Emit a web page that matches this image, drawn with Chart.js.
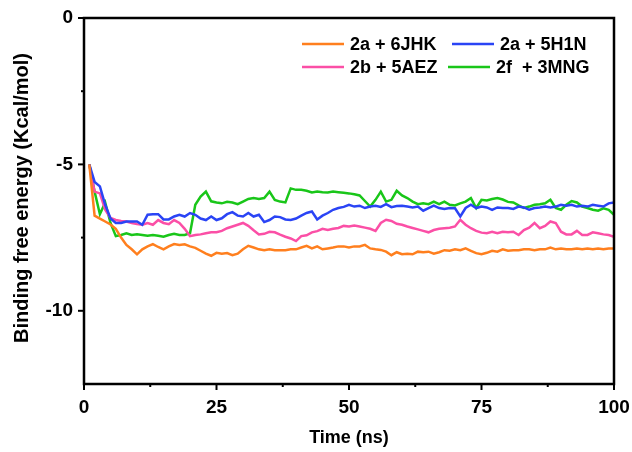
<!DOCTYPE html>
<html>
<head>
<meta charset="utf-8">
<script src="https://cdn.jsdelivr.net/npm/chart.js@4.4.0/dist/chart.umd.min.js"></script>
<style>
  html, body { margin: 0; padding: 0; background: #fff; }
</style>
</head>
<body>
<canvas id="chart" width="632" height="452"></canvas>
<script>
// time axis (ns)
const time = [
  1, 2, 3, 4, 5, 6, 7, 8, 9, 10, 11, 12, 13, 14, 15, 16, 17, 18, 19, 20,
  21, 22, 23, 24, 25, 26, 27, 28, 29, 30, 31, 32, 33, 34, 35, 36, 37, 38, 39, 40,
  41, 42, 43, 44, 45, 46, 47, 48, 49, 50, 51, 52, 53, 54, 55, 56, 57, 58, 59, 60,
  61, 62, 63, 64, 65, 66, 67, 68, 69, 70, 71, 72, 73, 74, 75, 76, 77, 78, 79, 80,
  81, 82, 83, 84, 85, 86, 87, 88, 89, 90, 91, 92, 93, 94, 95, 96, 97, 98, 99, 100
];

// 2a + 6JHK
const jhk6 = [
  -5.0, -6.75, -6.85, -6.95, -7.05, -7.2, -7.5, -7.75, -7.9, -8.07,
  -7.9, -7.8, -7.72, -7.82, -7.9, -7.8, -7.72, -7.75, -7.73, -7.8,
  -7.85, -7.95, -8.05, -8.12, -8.02, -8.05, -8.03, -8.1, -8.05, -7.9,
  -7.78, -7.84, -7.9, -7.93, -7.9, -7.93, -7.93, -7.93, -7.9, -7.9,
  -7.84, -7.78, -7.87, -7.8, -7.9, -7.87, -7.84, -7.8, -7.8, -7.84,
  -7.8, -7.8, -7.75, -7.87, -7.9, -7.92, -7.98, -8.1, -8.0, -8.07,
  -8.05, -8.07, -7.98, -8.0, -7.98, -8.05, -8.0, -7.93, -7.95, -7.9,
  -7.93, -7.87, -7.95, -8.03, -8.07, -8.02, -7.95, -7.98, -7.9, -7.95,
  -7.93, -7.93, -7.9, -7.9, -7.93, -7.9, -7.9, -7.84, -7.9, -7.87,
  -7.9, -7.9, -7.87, -7.9, -7.87, -7.9, -7.87, -7.9, -7.87, -7.87
];

// 2a + 5H1N
const h1n5 = [
  -5.0, -5.6, -5.75, -6.38, -6.85, -7.0, -7.0, -6.95, -6.95, -6.95,
  -7.06, -6.72, -6.7, -6.7, -6.88, -6.88, -6.78, -6.72, -6.78, -6.66,
  -6.72, -6.85, -6.9, -6.78, -6.9, -6.84, -6.7, -6.63, -6.75, -6.78,
  -6.66, -6.78, -6.72, -6.97, -6.9, -6.78, -6.8, -6.88, -6.9, -6.85,
  -6.75, -6.66, -6.61, -6.88, -6.75, -6.66, -6.55, -6.49, -6.45, -6.38,
  -6.44, -6.41, -6.49, -6.44, -6.41, -6.45, -6.36, -6.46, -6.42, -6.41,
  -6.44, -6.47, -6.44, -6.58, -6.49, -6.41, -6.49, -6.52, -6.49, -6.5,
  -6.78, -6.49, -6.38, -6.49, -6.44, -6.47, -6.55, -6.47, -6.49, -6.49,
  -6.52, -6.44, -6.47, -6.55, -6.49, -6.47, -6.44, -6.47, -6.44, -6.38,
  -6.41, -6.38, -6.44, -6.41, -6.44, -6.38, -6.41, -6.44, -6.33, -6.3
];

// 2b + 5AEZ
const aez5 = [
  -5.0, -5.93, -5.99, -6.55, -6.83, -6.9, -6.93, -6.95, -7.0, -7.04,
  -7.06, -7.0, -7.06, -6.9, -7.0, -7.04, -6.9, -7.0, -7.2, -7.45,
  -7.41, -7.39, -7.35, -7.32, -7.32, -7.27, -7.18, -7.12, -7.06, -7.0,
  -7.1, -7.25, -7.39, -7.37, -7.3, -7.32, -7.4, -7.47, -7.53, -7.62,
  -7.45, -7.42, -7.32, -7.28, -7.2, -7.24, -7.2, -7.17, -7.1, -7.12,
  -7.09, -7.12, -7.16, -7.2, -7.27, -7.0, -6.89, -6.93, -7.03, -7.06,
  -7.12, -7.17, -7.22, -7.27, -7.32, -7.24, -7.2, -7.18, -7.16, -7.12,
  -6.89, -7.06, -7.18, -7.27, -7.33, -7.35, -7.3, -7.35, -7.3, -7.32,
  -7.3, -7.41, -7.24, -7.16, -7.0, -7.18, -7.1, -6.95, -7.0, -7.3,
  -7.39, -7.39, -7.27, -7.41, -7.41, -7.32, -7.35, -7.39, -7.41, -7.47
];

// 2f + 3MNG
const mng3 = [
  -5.0, -5.93, -6.7, -6.3, -7.0, -7.45, -7.41, -7.35, -7.41, -7.39,
  -7.41, -7.44, -7.41, -7.44, -7.47, -7.41, -7.37, -7.41, -7.41, -7.35,
  -6.38, -6.1, -5.93, -6.26, -6.3, -6.33, -6.28, -6.3, -6.36, -6.27,
  -6.18, -6.15, -6.18, -6.15, -5.93, -6.21, -6.27, -6.3, -5.82, -5.87,
  -5.87, -5.9, -5.96, -5.93, -5.95, -5.96, -5.93, -5.95, -5.97, -5.99,
  -6.02, -6.06, -6.25, -6.44, -6.21, -5.93, -6.27, -6.21, -5.9, -6.06,
  -6.15, -6.27, -6.36, -6.33, -6.36, -6.27, -6.36, -6.27, -6.38, -6.4,
  -6.33, -6.27, -6.15, -6.49, -6.21, -6.23, -6.18, -6.15, -6.2, -6.28,
  -6.3, -6.4, -6.49, -6.44, -6.38, -6.36, -6.33, -6.21, -6.49, -6.55,
  -6.38, -6.25, -6.3, -6.44, -6.49, -6.55, -6.58, -6.5, -6.55, -6.72
];

const seriesLabels = ['2a + 6JHK', '2a + 5H1N', '2b + 5AEZ', '2f  + 3MNG'];
const seriesColors = ['#ff7f1e', '#2a44f5', '#fb4fa6', '#19c619'];

const xTicks = [0, 25, 50, 75, 100];
const xMinorTicks = [12.5, 37.5, 62.5, 87.5];
const yTicks = [0, -5, -10];
const yMinorTicks = [-2.5, -7.5];

const FONT = 'Arial, "Liberation Sans", sans-serif';

const toPoints = values => values.map((v, i) => ({ x: time[i], y: v }));

// frame, tick marks, axis titles and legend
const framePlugin = {
    id: 'frame',
    afterDraw(chart) {
        const { ctx, chartArea: a } = chart;
        const xs = chart.scales.x;
        const ys = chart.scales.y;

        ctx.save();
        ctx.strokeStyle = '#000';
        ctx.lineWidth = 2.5;
        ctx.strokeRect(a.left, a.top, a.right - a.left, a.bottom - a.top);

        const tick = (x1, y1, x2, y2) => {
            ctx.beginPath();
            ctx.moveTo(x1, y1);
            ctx.lineTo(x2, y2);
            ctx.stroke();
        };
        ctx.lineWidth = 2;
        xTicks.forEach(v => { const p = xs.getPixelForValue(v); tick(p, a.bottom, p, a.bottom + 6); });
        xMinorTicks.forEach(v => { const p = xs.getPixelForValue(v); tick(p, a.bottom, p, a.bottom + 3); });
        yTicks.forEach(v => { const p = ys.getPixelForValue(v); tick(a.left, p, a.left - 6, p); });
        yMinorTicks.forEach(v => { const p = ys.getPixelForValue(v); tick(a.left, p, a.left - 3, p); });

        // axis titles
        ctx.fillStyle = '#000';
        ctx.textAlign = 'center';
        ctx.textBaseline = 'middle';
        ctx.font = 'bold 18px ' + FONT;
        ctx.fillText('Time (ns)', (a.left + a.right) / 2, 438);

        ctx.save();
        ctx.translate(22, 198);
        ctx.rotate(-Math.PI / 2);
        ctx.font = 'bold 20px ' + FONT;
        ctx.fillText('Binding free energy (Kcal/mol)', 0, 0);
        ctx.restore();

        // legend, two columns
        const slots = [
            { lx: 302, ly: 44 },
            { lx: 452, ly: 44 },
            { lx: 302, ly: 67 },
            { lx: 448, ly: 67 }
        ];
        ctx.font = 'bold 18px ' + FONT;
        ctx.textAlign = 'left';
        chart.data.datasets.forEach((ds, i) => {
            const s = slots[i];
            ctx.strokeStyle = ds.borderColor;
            ctx.lineWidth = 2.5;
            tick(s.lx, s.ly, s.lx + 42, s.ly);
            ctx.fillStyle = '#000';
            ctx.fillText(ds.label, s.lx + 48, s.ly + 1);
        });
        ctx.restore();
    }
};

new Chart(document.getElementById('chart'), {
    type: 'line',
    data: {
        datasets: [jhk6, h1n5, aez5, mng3].map((values, i) => ({
            label: seriesLabels[i],
            data: toPoints(values),
            borderColor: seriesColors[i],
            backgroundColor: seriesColors[i],
            borderWidth: 2.5,
            pointRadius: 0,
            tension: 0
        }))
    },
    options: {
        responsive: false,
        animation: false,
        devicePixelRatio: 1,
        layout: { padding: { top: 18, right: 18, left: 0, bottom: 0 } },
        plugins: {
            legend: { display: false },
            tooltip: { enabled: false }
        },
        scales: {
            x: {
                type: 'linear',
                min: 0,
                max: 100,
                grid: { display: false, drawTicks: false },
                border: { display: false },
                afterBuildTicks: s => { s.ticks = xTicks.map(v => ({ value: v })); },
                afterFit: s => { s.height = 68; s.paddingLeft = 0; s.paddingRight = 0; },
                ticks: {
                    color: '#000',
                    padding: 12,
                    maxRotation: 0,
                    font: { family: FONT, size: 19, weight: 'bold' }
                }
            },
            y: {
                min: -12.5,
                max: 0,
                grid: { display: false, drawTicks: false },
                border: { display: false },
                afterBuildTicks: s => { s.ticks = yTicks.map(v => ({ value: v })); },
                afterFit: s => { s.width = 84; s.paddingTop = 0; s.paddingBottom = 0; },
                ticks: {
                    color: '#000',
                    padding: 11,
                    font: { family: FONT, size: 19, weight: 'bold' }
                }
            }
        }
    },
    plugins: [framePlugin]
});
</script>
</body>
</html>
